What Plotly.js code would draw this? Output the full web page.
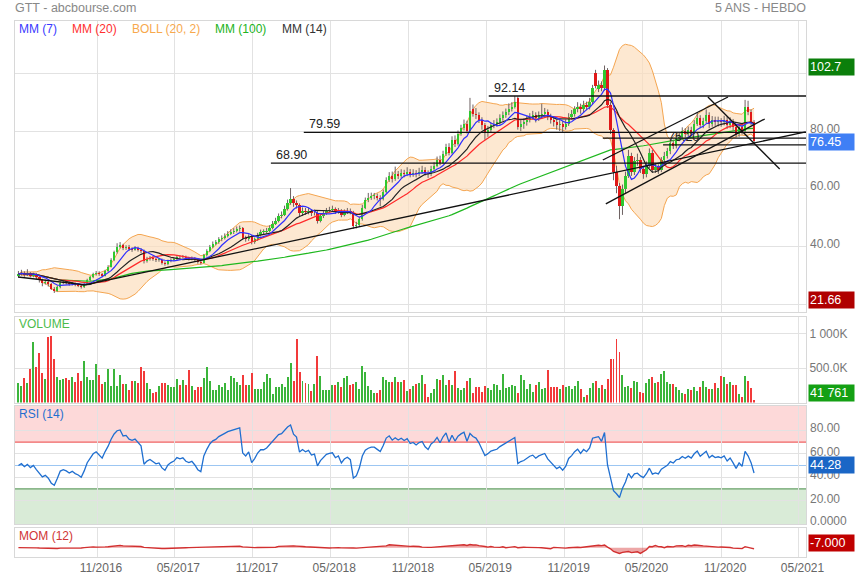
<!DOCTYPE html>
<html><head><meta charset="utf-8">
<script src="https://cdn.plot.ly/plotly-3.0.1.min.js"></script>
<style>html,body{margin:0;padding:0;background:#fff}#chart{width:855px;height:580px}</style>
</head><body><div id="chart"></div>
<script>
// ---------- DATA (weekly candles, GTT) ----------
const startDate = '2016-05-01';
const open = [30.0,30.5,31.0,30.2,30.8,30.0,30.5,29.5,28.5,27.5,
27.8,27.0,25.5,24.8,26.0,27.5,27.8,27.5,27.0,27.3,
26.8,26.5,26.0,27.0,28.5,29.5,30.5,31.0,30.5,30.0,
31.5,33.0,35.5,38.0,40.0,40.5,39.5,39.8,39.2,39.0,
39.5,39.0,38.5,35.0,35.8,36.2,35.8,35.3,35.5,34.5,
34.0,35.0,35.5,35.8,36.5,36.3,36.5,36.0,35.8,36.0,
35.5,34.8,34.5,37.0,38.5,40.0,41.0,41.5,42.5,43.0,
43.8,44.5,45.0,45.5,46.0,46.3,43.0,42.5,43.5,41.5,
42.5,44.0,45.0,45.0,45.5,46.5,48.0,49.0,50.5,51.0,
53.0,55.0,56.5,55.0,54.5,51.5,52.5,52.0,52.5,51.5,
51.8,49.0,50.5,51.5,52.5,52.8,53.0,52.0,52.5,51.0,
52.0,52.5,52.0,47.0,47.5,49.5,53.5,56.0,57.0,57.5,
57.5,57.0,56.5,59.0,63.0,64.5,63.5,65.0,64.5,65.5,
65.0,66.0,65.0,65.5,65.0,66.0,66.5,65.5,65.0,67.0,
68.0,70.0,69.0,72.0,74.5,72.5,77.0,75.5,79.0,81.0,
82.5,80.0,87.5,86.0,85.5,84.0,82.0,79.5,80.5,82.0,
82.5,83.0,84.5,85.5,86.5,87.5,88.5,91.5,81.5,82.5,
83.0,84.0,85.0,85.5,84.5,85.5,86.0,86.5,85.0,84.0,
83.0,82.0,82.5,81.5,82.5,85.0,86.0,87.5,88.5,87.5,
89.0,88.5,90.0,100.0,94.5,96.0,95.0,101.0,89.0,80.5,
66.0,61.0,54.0,60.0,64.5,71.5,66.0,69.5,70.0,67.0,
65.0,68.0,72.5,66.5,67.5,66.5,70.0,71.5,73.0,76.0,
75.0,77.5,78.0,80.0,79.0,80.5,79.5,82.5,84.5,82.0,
83.5,85.5,82.5,84.0,83.0,83.45,83.0,84.0,82.0,83.5,
81.5,79.0,81.5,80.0,88.5,86.5,83.0];
const high = [31.6,32.0,31.5,32.2,31.2,31.0,30.9,29.9,28.9,28.6,
28.3,27.4,26.0,26.6,28.0,28.4,28.2,27.9,27.8,27.6,
27.2,26.9,27.4,28.9,29.9,31.0,31.6,31.5,30.9,32.0,
33.6,36.0,38.6,41.2,41.6,41.0,40.5,40.6,39.8,40.2,
40.0,39.5,39.0,36.5,36.8,36.7,36.2,36.1,35.9,34.9,
35.5,36.0,36.4,37.0,37.0,37.1,36.9,36.5,36.6,36.4,
35.9,35.3,37.5,39.1,40.6,41.8,42.3,43.3,43.9,44.6,
45.4,46.0,46.4,47.0,47.3,46.8,43.8,44.3,44.0,43.2,
44.8,45.9,46.0,46.5,47.4,48.9,50.0,51.5,52.2,54.2,
56.3,60.3,57.5,56.0,55.0,53.6,53.4,53.5,53.0,52.8,
52.3,51.4,52.4,53.4,53.8,54.2,53.6,53.4,53.0,52.9,
53.4,53.2,52.4,48.6,50.3,54.5,57.0,58.6,58.7,58.6,
58.4,57.8,59.8,64.0,65.8,66.0,67.7,66.2,66.8,66.6,
67.5,66.9,66.8,66.5,67.3,68.0,67.5,66.4,68.0,69.2,
71.2,71.5,73.2,75.6,75.8,78.2,78.5,80.2,82.2,84.0,
83.6,91.5,89.2,88.0,86.5,84.8,82.8,81.8,83.0,83.8,
84.4,85.8,86.8,87.8,89.6,90.0,92.14,92.0,84.0,84.4,
85.3,86.2,87.0,86.5,86.8,89.5,88.0,87.5,86.0,85.0,
84.0,83.8,83.5,84.0,86.2,87.3,88.6,90.0,89.5,90.5,
90.2,91.5,96.0,101.2,97.5,97.2,102.7,101.8,90.0,81.0,
68.0,62.0,61.5,66.0,73.5,72.5,71.0,72.2,71.0,68.0,
69.5,74.0,73.5,69.0,68.5,71.0,72.8,74.2,77.2,77.0,
78.6,79.5,81.3,81.0,81.6,81.5,83.8,86.5,85.5,84.6,
87.5,86.5,85.2,85.0,85.0,84.5,85.3,85.0,84.8,84.2,
82.2,82.5,82.4,90.8,90.5,87.5,83.8];
const low = [29.5,30.0,29.6,29.8,29.4,29.4,28.8,27.6,26.3,26.9,
26.2,25.0,24.0,24.4,25.6,27.0,26.9,26.5,26.6,26.3,
26.0,25.5,25.7,26.8,28.1,29.1,30.0,29.9,29.4,29.7,
31.2,32.8,35.0,37.6,39.4,38.8,38.9,38.5,38.2,38.6,
38.3,37.8,34.2,34.5,35.2,35.1,34.7,34.8,33.8,33.4,
33.6,34.6,35.0,35.4,35.8,35.8,35.4,35.2,35.3,34.9,
34.1,33.8,34.2,36.6,38.1,39.5,40.5,41.0,41.9,42.5,
43.2,44.0,44.4,44.9,45.2,42.3,41.7,42.0,40.8,41.0,
42.0,43.5,44.2,44.5,45.0,46.0,47.5,48.4,49.8,50.6,
52.5,54.5,53.8,53.2,50.5,50.6,51.0,51.2,50.6,50.8,
48.0,48.4,49.9,51.0,51.9,52.0,51.3,51.4,50.2,50.5,
51.3,51.2,46.2,46.3,47.0,49.0,53.0,55.4,56.2,56.4,
56.0,54.0,56.0,58.5,62.4,62.2,62.8,63.4,63.8,64.0,
64.4,64.0,64.2,64.0,64.4,65.2,64.6,63.8,64.4,66.2,
67.5,68.2,68.6,71.4,71.6,72.0,74.5,75.0,78.4,80.2,
79.2,79.6,85.0,84.2,82.8,80.5,77.0,78.0,79.4,81.0,
81.5,82.2,83.6,84.6,85.5,86.8,87.8,80.5,80.0,80.8,
81.9,83.0,84.0,83.0,83.5,84.2,85.0,83.8,82.6,81.6,
80.5,80.0,79.5,80.5,81.8,84.0,85.0,86.5,86.0,86.5,
87.2,87.5,89.2,94.8,93.5,93.8,94.0,88.0,79.0,63.0,
58.5,49.5,51.0,58.5,63.8,64.5,64.8,68.0,65.5,63.5,
64.0,67.2,65.5,65.5,65.2,65.8,69.0,70.5,72.0,73.8,
74.0,76.5,77.0,77.8,78.2,78.3,79.0,81.8,81.0,81.0,
82.8,81.0,81.5,81.8,81.6,81.5,82.0,80.8,81.0,80.2,
77.8,78.0,78.8,79.5,85.5,82.0,75.8];
const close = [30.5,31.0,30.2,30.8,30.0,30.5,29.5,28.5,27.5,27.8,
27.0,25.5,24.8,26.0,27.5,27.8,27.5,27.0,27.3,26.8,
26.5,26.0,27.0,28.5,29.5,30.5,31.0,30.5,30.0,31.5,
33.0,35.5,38.0,40.0,40.5,39.5,39.8,39.2,39.0,39.5,
39.0,38.5,35.0,35.8,36.2,35.8,35.3,35.5,34.5,34.0,
35.0,35.5,35.8,36.5,36.3,36.5,36.0,35.8,36.0,35.5,
34.8,34.5,37.0,38.5,40.0,41.0,41.5,42.5,43.0,43.8,
44.5,45.0,45.5,46.0,46.3,43.0,42.5,43.5,41.5,42.5,
44.0,45.0,45.0,45.5,46.5,48.0,49.0,50.5,51.0,53.0,
55.0,56.5,55.0,54.5,51.5,52.5,52.0,52.5,51.5,51.8,
49.0,50.5,51.5,52.5,52.8,53.0,52.0,52.5,51.0,52.0,
52.5,52.0,47.0,47.5,49.5,53.5,56.0,57.0,57.5,57.5,
57.0,56.5,59.0,63.0,64.5,63.5,65.0,64.5,65.5,65.0,
66.0,65.0,65.5,65.0,66.0,66.5,65.5,65.0,67.0,68.0,
70.0,69.0,72.0,74.5,72.5,77.0,75.5,79.0,81.0,82.5,
80.0,87.0,86.0,85.5,84.0,82.0,79.5,80.5,82.0,82.5,
83.0,84.5,85.5,86.5,87.5,88.5,90.0,81.5,82.5,83.0,
84.0,85.0,85.5,84.5,85.5,86.0,86.5,85.0,84.0,83.0,
82.0,82.5,81.5,82.5,85.0,86.0,87.5,88.5,87.5,89.0,
88.5,90.0,95.0,95.5,96.0,95.0,101.0,89.0,80.5,66.0,
61.0,54.0,60.0,64.5,71.5,66.0,69.5,70.0,67.0,65.0,
68.0,72.5,66.5,67.5,66.5,70.0,71.5,73.0,76.0,75.0,
77.5,78.0,80.0,79.0,80.5,79.5,82.5,84.5,82.0,83.5,
85.5,82.5,84.0,83.0,83.45,83.0,84.0,82.0,83.5,81.5,
79.0,81.5,80.0,88.5,86.5,83.0,76.45];
// weekly volume, thousands of shares
const volumeK = [281,242,354,290,494,879,519,728,436,349,
952,971,636,378,330,344,359,330,369,305,
427,310,602,369,330,330,558,402,271,300,
485,242,485,242,407,271,271,184,310,310,
281,519,461,281,194,136,160,247,281,281,
252,232,232,349,257,330,252,476,247,184,
232,232,364,519,315,184,184,252,228,281,
189,388,354,296,262,402,262,262,427,203,
203,203,300,412,359,121,228,228,267,228,
378,582,320,932,442,320,281,271,174,271,
679,388,184,184,184,252,252,305,223,354,
388,252,271,300,194,538,446,242,184,136,
136,184,378,330,305,305,378,305,305,325,
174,203,242,271,281,402,271,86,
134,192,349,325,398,257,325,252,456,208,
184,213,315,354,145,223,223,155,247,213,
184,276,252,184,418,213,223,257,237,134,
403,325,198,267,155,252,296,203,208,476,
223,223,223,198,257,233,237,198,242,320,
194,77,116,208,291,320,208,252,203,349,
631,631,934,744,407,223,242,213,310,300,
160,145,291,340,379,286,300,418,456,296,
267,271,233,189,145,125,198,184,223,170,
223,320,223,194,203,281,208,383,369,276,
300,262,257,125,82,383,320,213,41.761];

// support / resistance levels drawn on the chart
const levelValues = [92.14, 79.59, 68.90, 75.20, 77.60];
const levelStarts = ['2019-05-07','2018-02-28','2017-12-13','2020-06-18','2020-01-29'];
const levelLabels = ['92.14','79.59','68.90','75.20',''];
// trend lines (date, price) -> (date, price)
const trendX0 = ['2016-04-30','2016-10-04','2020-01-29','2020-02-05','2020-10-01'];
const trendY0 = [29.5, 26.75, 70.0, 54.8, 91.8];
const trendX1 = ['2016-10-04','2021-05-18','2020-11-17','2021-02-11','2021-03-18'];
const trendY1 = [26.75, 79.7, 91.8, 84.2, 66.9];

const tickDates = ['2016-11-01','2017-05-01','2017-11-01','2018-05-01','2018-11-01','2019-05-01','2019-11-01','2020-05-01','2020-11-01','2021-05-01'];
const tickLabels = ['11/2016','05/2017','11/2017','05/2018','11/2018','05/2019','11/2019','05/2020','11/2020','05/2021'];
const priceTicks = [40, 60, 80];
const priceTickText = ['40.00', '60.00', '80.00'];
const rsiTicks = [0, 20, 40, 60, 80];
const rsiTickText = ['0.0000', '20.00', '40.00', '60.00', '80.00'];

const lastPrice = '76.45', maxPrice = '102.7', minPrice = '21.66', lastVol = '41 761', lastRsi = '44.28', lastMom = '-7.000';

// ---------- derived ----------
const DAY = 864e5;
const t0 = Date.parse(startDate + 'T00:00:00Z');
const iso = ms => new Date(ms).toISOString().slice(0,10);
const dates = close.map((_, i) => iso(t0 + i * 7 * DAY));
const xRange = [iso(t0 - 8 * DAY), new Date(t0 + 1843.6 * DAY).toISOString().slice(0,19).replace('T',' ')];
const PRANGE = [17.5, 118.1];

function sma(a, n) {
  return a.map((_, i) => { const s = Math.max(0, i - n + 1); let t = 0; for (let k = s; k <= i; k++) t += a[k]; return t / (i - s + 1); });
}
function bands(a, n, m) {
  const mid = sma(a, n), up = [], dn = [];
  a.forEach((_, i) => { const s = Math.max(0, i - n + 1); let v = 0; for (let k = s; k <= i; k++) v += (a[k] - mid[i]) ** 2; const sd = Math.sqrt(v / (i - s + 1)); up.push(mid[i] + m * sd); dn.push(mid[i] - m * sd); });
  return [up, dn];
}
function rsiCalc(a, n, seed) {
  const out = [50]; let ag = seed, al = seed;
  for (let i = 1; i < a.length; i++) {
    const ch = a[i] - a[i-1], g = Math.max(ch, 0), l = Math.max(-ch, 0);
    ag = (ag * (n - 1) + g) / n; al = (al * (n - 1) + l) / n;
    out.push(al === 0 ? 100 : 100 - 100 / (1 + ag / al));
  }
  return out;
}
const mm7 = sma(close, 7), mm14 = sma(close, 14), mm20 = sma(close, 20), mm100 = sma(close, 100);
const [bbUp, bbDn] = bands(close, 20, 2);
const rsi = rsiCalc(close, 14, 0.6);
const mom = close.map((c, i) => c - close[Math.max(0, i - 12)]);
const GREEN = '#2fc82f', RED = '#e01818';
const candleColors = close.map((c, i) => c >= open[i] ? GREEN : RED);
const volColors = close.map((c, i) => c >= open[i] ? '#3bb53b' : '#f23a3a');
const bodyBase = close.map((c, i) => Math.min(c, open[i]));
const bodyLen = close.map((c, i) => Math.max(Math.abs(c - open[i]), 0.3));
// wick segments (low -> high for every week)
const wickX = [], wickY = [];
dates.forEach((d, i) => { wickX.push(d, d, null); wickY.push(low[i], high[i], null); });

const FONT = 'Arial, "Liberation Sans", sans-serif';
const GRID = '#e2e2e2';

const traces = [
  // base layer: bands + long average
  {type:'scatter', mode:'lines', x:dates, y:bbDn, line:{color:'#f4a550', width:1}, xaxis:'x', yaxis:'y'},
  {type:'scatter', mode:'lines', x:dates, y:bbUp, line:{color:'#f4a550', width:1}, fill:'tonexty', fillcolor:'rgba(252,222,190,0.7)', xaxis:'x', yaxis:'y'},
  {type:'scatter', mode:'lines', x:dates, y:mm100, line:{color:'#1fb81f', width:1.2}, xaxis:'x', yaxis:'y'},
  // wick layer
  {type:'scatter', mode:'lines', x:wickX, y:wickY, line:{color:'#6e6262', width:1}, connectgaps:false, xaxis:'x', yaxis:'y5'},
  // body layer + short averages
  {type:'bar', x:dates, base:bodyBase, y:bodyLen, width:5.4 * DAY, marker:{color:candleColors, line:{width:0}}, xaxis:'x', yaxis:'y6'},
  {type:'scatter', mode:'lines', x:dates, y:mm20, line:{color:'#ff2a2a', width:1.2}, xaxis:'x', yaxis:'y6'},
  {type:'scatter', mode:'lines', x:dates, y:mm14, line:{color:'#222', width:1.2}, xaxis:'x', yaxis:'y6'},
  {type:'scatter', mode:'lines', x:dates, y:mm7, line:{color:'#2f2fff', width:1.2}, xaxis:'x', yaxis:'y6'},
  // volume
  {type:'bar', x:dates, y:volumeK.map(v => v * 1000), marker:{color:volColors, line:{width:0}}, width:4.6 * DAY, xaxis:'x2', yaxis:'y2'},
  // RSI
  {type:'scatter', mode:'lines', x:dates, y:rsi, line:{color:'#1f6fd0', width:1.3}, xaxis:'x3', yaxis:'y3'},
  // MOM
  {type:'scatter', mode:'lines', x:dates, y:mom, line:{color:'#d23030', width:1.4}, fill:'tozeroy', fillcolor:'rgba(214,60,60,0.45)', xaxis:'x4', yaxis:'y4'}
];

const H = 536, B = 557;
const dom = (top, bot) => [(B - bot) / H, (B - top) / H];
const xBase = {type:'date', range:xRange, showgrid:true, gridcolor:GRID, tickvals:tickDates, ticktext:tickLabels,
  showline:true, linecolor:'#d8d8d8', mirror:true, zeroline:false, showticklabels:false, ticks:'', fixedrange:true};
const yBase = {side:'right', showgrid:true, gridcolor:GRID, showline:true, linecolor:'#d8d8d8', mirror:true, zeroline:false,
  ticks:'', tickfont:{family:FONT, size:12, color:'#777'}, fixedrange:true};

const shapes = [];
const annotations = [];
// RSI zones
shapes.push({type:'rect', xref:'x3 domain', x0:0, x1:1, yref:'y3', y0:70, y1:100.85, fillcolor:'#fdd9d9', line:{width:0}, layer:'below'});
shapes.push({type:'rect', xref:'x3 domain', x0:0, x1:1, yref:'y3', y0:0, y1:30, fillcolor:'#d9ebd7', line:{width:0}, layer:'below'});
shapes.push({type:'line', xref:'x3 domain', x0:0, x1:1, yref:'y3', y0:70, y1:70, line:{color:'#ef6262', width:1.2}, layer:'below'});
shapes.push({type:'line', xref:'x3 domain', x0:0, x1:1, yref:'y3', y0:30, y1:30, line:{color:'#66a066', width:1.2}, layer:'below'});
shapes.push({type:'line', xref:'x3 domain', x0:0, x1:1, yref:'y3', y0:50, y1:50, line:{color:'#9cc6f2', width:1.2}, layer:'below'});
// levels
levelValues.forEach((v, k) => {
  shapes.push({type:'line', xref:'x', yref:'y', x0:levelStarts[k], x1:xRange[1], y0:v, y1:v, line:{color:'#111', width:1.3}});
  if (levelLabels[k]) annotations.push({xref:'x', yref:'y', x:levelStarts[k], y:v, text:levelLabels[k], showarrow:false,
    xanchor:'left', yanchor:'bottom', xshift:3, yshift:-1, font:{family:FONT, size:12.5, color:'#222'}});
});
trendX0.forEach((x0, k) => {
  shapes.push({type:'line', xref:'x', yref:'y', x0:x0, y0:trendY0[k], x1:trendX1[k], y1:trendY1[k], line:{color:'#111', width:1.3}});
});
// axis labels (drawn slightly above their grid lines, as in the original)
priceTicks.forEach((v, k) => annotations.push({xref:'paper', x:1, xanchor:'left', xshift:2, yref:'y', y:v, yanchor:'middle', yshift:2.5,
  text:priceTickText[k], showarrow:false, font:{family:FONT, size:12, color:'#777'}}));
rsiTicks.forEach((v, k) => annotations.push({xref:'paper', x:1, xanchor:'left', xshift:2, yref:'y3', y:v, yanchor:'middle', yshift:v === 0 ? 3 : 2,
  text:rsiTickText[k], showarrow:false, font:{family:FONT, size:12, color:'#777'}}));

const px = p => (p - 15) / 791;
const py = p => (B - p) / H;
const txt = (x, y, text, color, size, anchor) => annotations.push({xref:'paper', yref:'paper', x:px(x), y:py(y), text, showarrow:false,
  xanchor:anchor || 'left', yanchor:'middle', font:{family:FONT, size:size, color}});
txt(13, 8, 'GTT - abcbourse.com', '#888', 12.5);
txt(808, 8, '5 ANS - HEBDO', '#888', 12.5, 'right');
txt(17, 29, 'MM (7)', '#3a3aff', 12);
txt(70, 29, 'MM (20)', '#ff3030', 12);
txt(130, 29, 'BOLL (20, 2)', '#f7a94d', 12);
txt(213, 29, 'MM (100)', '#22b322', 12);
txt(280, 29, 'MM (14)', '#333', 12);
txt(17, 324, 'VOLUME', '#4cbb4c', 12);
txt(17, 414, 'RSI (14)', '#1f6fd0', 12);
txt(17, 536, 'MOM (12)', '#d03535', 12);

const box = (yref, y, text, bg, yanchor, yshift) => annotations.push({xref:'paper', x:1, xanchor:'left', xshift:2, yref, y,
  yanchor:yanchor || 'middle', yshift:yshift || 0, text, showarrow:false, bgcolor:bg, width:43, height:14, borderpad:1, align:'left',
  font:{family:FONT, size:12.5, color:'#fff'}});
box('y', 102.7, maxPrice, '#0b7f0b', 'middle', -1.5);
box('y', 76.45, lastPrice, '#3f7ff5', 'middle', -1);
box('y', 21.66, minPrice, '#b00000');
box('y2 domain', 0, lastVol, '#14a014', 'bottom', 1);
box('y3', 44.28, lastRsi, '#1a66c6', 'bottom', -2);
box('y4 domain', (557 - 543) / 29, lastMom, '#c00000');

const overlay = {overlaying:'y', anchor:'x', range:PRANGE, visible:false, showgrid:false, zeroline:false, fixedrange:true};
const layout = {
  width:855, height:580, margin:{l:15, r:49, t:21, b:23}, paper_bgcolor:'#fff', plot_bgcolor:'#fff',
  showlegend:false, font:{family:FONT}, bargap:0, barmode:'overlay', hovermode:false,
  xaxis: Object.assign({}, xBase, {anchor:'y'}),
  xaxis2: Object.assign({}, xBase, {anchor:'y2', matches:'x'}),
  xaxis3: Object.assign({}, xBase, {anchor:'y3', matches:'x'}),
  xaxis4: Object.assign({}, xBase, {anchor:'y4', matches:'x', showticklabels:true, ticklabelshift:4,
    tickfont:{family:FONT, size:12, color:'#666'}}),
  yaxis: Object.assign({}, yBase, {anchor:'x', domain:dom(21, 311.7), range:PRANGE,
    tickvals:[20,40,60,80,100], ticktext:['','','','','']}),
  yaxis5: Object.assign({}, overlay),
  yaxis6: Object.assign({}, overlay),
  yaxis2: Object.assign({}, yBase, {anchor:'x2', domain:dom(316.7, 402.6), range:[0, 1252000],
    tickvals:[500000, 1000000], ticktext:['500.0K','1 000K']}),
  yaxis3: Object.assign({}, yBase, {anchor:'x3', domain:dom(406, 524), range:[0, 100.85],
    tickvals:rsiTicks, ticktext:rsiTicks.map(() => '')}),
  yaxis4: Object.assign({}, yBase, {anchor:'x4', domain:dom(528, 557), range:[-56, 118], showgrid:false,
    tickvals:[], ticktext:[]}),
  shapes, annotations
};
Plotly.newPlot('chart', traces, layout, {staticPlot:true, displayModeBar:false});
</script></body></html>
